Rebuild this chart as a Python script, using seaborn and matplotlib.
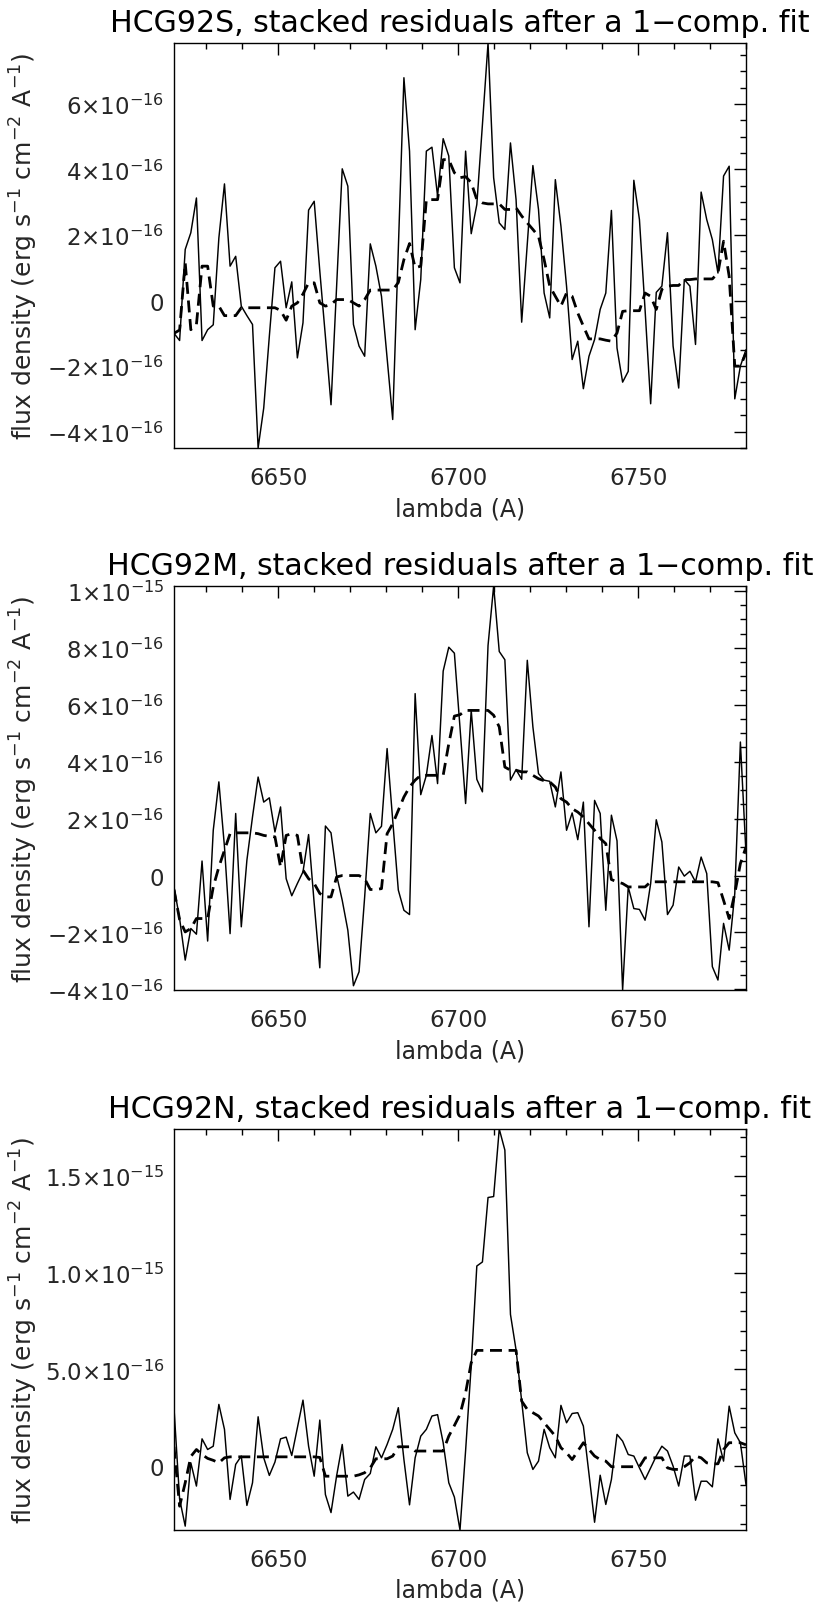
import numpy as np
import pandas as pd
import matplotlib
matplotlib.use("Agg")
import matplotlib.pyplot as plt
import seaborn as sns
from matplotlib.ticker import FixedLocator, MultipleLocator

# ---------------- data (flux in units of 1e-16 erg/s/cm2/A) ----------------
LAM_START = 6621.0
LAM_STEP = 1.5588
N_PIX = 103
SCALE = 1e-16

titles = ["HCG92S, stacked residuals after a 1\u2212comp. fit",
          "HCG92M, stacked residuals after a 1\u2212comp. fit",
          "HCG92N, stacked residuals after a 1\u2212comp. fit"]

s_resid = [-1.0, -1.22, 1.56, 2.07, 3.13, -1.22, -0.89, -0.74, 1.91, 3.56,
           1.05, 1.35, -0.17, -0.46, -0.73, -4.5, -3.28, -1.09, 1.0, 1.2,
           -0.22, 0.57, -1.75, -0.68, 2.76, 3.03, 0.9, -1.1, -3.18, 0.44,
           4.02, 3.49, -0.73, -1.39, -1.70, 1.73, 1.05, 0.13, -1.75, -3.63,
           1.56, 6.8, 4.56, -0.89, 0.64, 4.56, 4.68, 3.19, 4.94, 4.41,
           1.0, 0.54, 4.56, 2.04, 2.93, 5.37, 7.86, 3.75, 2.37, 2.17,
           4.81, 3.08, -0.66, 1.73, 4.12, 2.78, 0.23, -0.53, 3.69, 2.27,
           0.44, -1.8, -1.24, -2.69, -1.70, -1.19, -0.27, 0.23, 2.75, -1.45,
           -2.49, -2.16, 3.67, 2.47, -0.27, -3.15, 0.25, 0.44, 2.07, -1.39,
           -2.67, 0.64, 0.44, -1.34, 3.31, 2.47, 1.86, 0.84, 3.8, 4.1,
           -3.0, -2.0, -1.5]
s_smooth = [-1.0, -0.9, 1.15, -0.89, -0.73, 1.05, 1.05, -0.17, -0.17, -0.46,
            -0.46, -0.46, -0.22, -0.22, -0.22, -0.22, -0.22, -0.22, -0.22, -0.30,
            -0.60, -0.17, -0.07, 0.2, 0.54, 0.54, -0.07, -0.17, -0.12, 0.03,
            0.03, 0.03, -0.07, -0.17, 0.03, 0.32, 0.32, 0.32, 0.32, 0.32,
            0.55, 1.25, 1.74, 1.0, 1.05, 3.08, 3.08, 3.08, 4.3, 4.3,
            3.9, 3.75, 3.78, 3.6, 3.08, 2.98, 2.95, 2.95, 2.95, 2.78,
            2.78, 2.83, 2.58, 2.37, 2.17, 1.96, 1.25, 0.44, 0.13, -0.17,
            0.23, 0.13, -0.38, -0.78, -1.17, -1.17, -1.17, -1.21, -1.24, -0.99,
            -0.33, -0.31, -0.31, -0.31, 0.23, 0.13, -0.27, 0.34, 0.44, 0.46,
            0.46, 0.64, 0.64, 0.66, 0.66, 0.66, 0.66, 0.84, 1.81, 0.74,
            -2.0, -2.0, -1.6]

m_resid = [-0.40, -1.51, -2.97, -1.86, -2.06, 0.51, -2.30, 1.59, 3.29, 1.01,
           -2.04, 2.18, -1.80, 0.54, 2.06, 3.46, 2.58, 2.73, 1.53, 2.41,
           -0.11, -0.71, -0.28, 0.13, 1.44, -0.98, -3.24, 1.74, 1.50, 0.01,
           -0.87, -1.92, -3.87, -3.38, -0.75, 2.18, 1.50, 1.73, 4.46, 1.94,
           -0.51, -1.22, -1.37, 6.39, 2.84, 3.52, 4.92, 3.23, 7.18, 8.02,
           7.81, 5.2, 2.53, 5.80, 3.38, 2.94, 8.08, 10.17, 7.87, 7.58,
           3.35, 3.72, 3.38, 7.56, 5.22, 3.58, 3.35, 3.31, 2.41, 3.64,
           1.59, 2.20, 1.26, 2.58, -1.80, 2.64, 2.18, -1.22, 2.12, 1.22,
           -4.02, -0.40, -1.16, -1.19, -1.57, -0.28, 1.96, 1.18, -1.37, -1.04,
           0.30, -0.02, 0.15, -0.22, 0.65, 0.07, -3.20, -3.67, -1.68, -2.62,
           -0.63, 4.69, 0.77]
m_smooth = [-0.5, -1.55, -1.98, -1.86, -1.51, -1.51, -1.51, -0.40, 0.30, 0.89,
            1.47, 1.50, 1.50, 1.50, 1.50, 1.47, 1.41, 1.38, 1.36, 0.30,
            1.41, 1.47, 1.41, 0.19, -0.11, -0.28, -0.63, -0.75, -0.75, -0.05,
            0.0, 0.0, 0.0, 0.0, -0.11, -0.49, -0.49, -0.46, 1.47, 1.82,
            2.29, 2.76, 3.11, 3.35, 3.52, 3.52, 3.52, 3.52, 3.52, 4.63,
            5.6, 5.65, 5.80, 5.80, 5.80, 5.80, 5.80, 5.63, 5.22, 3.81,
            3.70, 3.70, 3.64, 3.64, 3.52, 3.40, 3.33, 3.29, 3.11, 2.70,
            2.58, 2.35, 2.23, 2.06, 1.82, 1.59, 1.30, 1.12, -0.14, -0.22,
            -0.28, -0.40, -0.40, -0.40, -0.40, -0.22, -0.22, -0.22, -0.22, -0.22,
            -0.22, -0.22, -0.22, -0.22, -0.22, -0.22, -0.22, -0.25, -0.87, -1.51,
            -0.63, 0.42, 1.0]

n_resid = [3.0, -1.7, -3.1, 0.17, -1.03, 1.41, 0.86, 1.03, 3.19, 1.90,
           -1.72, 0.09, 0.52, -2.03, -0.86, 2.55, 0.43, -0.48, 0.21, 1.41,
           1.50, 0.55, 1.98, 3.41, 1.03, -0.52, 2.38, -1.47, -2.4, -0.5,
           1.12, -1.55, -1.34, -1.72, -0.69, -0.38, 1.0, 0.43, 1.12, 1.90,
           3.02, 0.34, -2.0, 0.43, 1.55, 1.90, 2.59, 2.66, 1.21, -0.86,
           -1.6, -3.3, 0.8, 5.2, 10.34, 10.55, 13.88, 13.93, 17.42, 16.33,
           7.84, 6.0, 3.36, 0.69, -0.17, 0.26, 1.90, 0.95, 0.43, 3.14,
           2.24, 2.72, 2.76, 2.07, -0.4, -2.9, -0.47, -1.98, -0.69, 1.64,
           1.29, 0.60, 0.52, -0.09, -0.69, -0.09, 0.52, 1.03, 0.78, 0.0,
           -1.03, 0.52, 0.52, -1.76, -0.78, -0.78, -1.07, 1.41, 0.26, 3.10,
           1.72, 1.21, -0.95]
n_smooth = [1.0, -2.07, -0.86, 0.5, 0.86, 0.6, 0.4, 0.3, 0.17, 0.43,
            0.48, 0.48, 0.48, 0.48, 0.48, 0.48, 0.48, 0.48, 0.48, 0.48,
            0.48, 0.48, 0.48, 0.48, 0.48, 0.48, 0.45, -0.52, -0.52, -0.52,
            -0.52, -0.52, -0.52, -0.45, -0.34, -0.09, 0.38, 0.38, 0.38, 0.52,
            1.0, 1.0, 1.0, 0.78, 0.78, 0.78, 0.78, 0.78, 0.78, 1.55,
            2.1, 2.67, 3.79, 5.34, 5.98, 5.98, 5.98, 5.98, 5.98, 5.98,
            5.98, 5.98, 3.36, 2.93, 2.76, 2.59, 2.24, 1.90, 1.55, 0.95,
            0.69, 0.34, 0.78, 1.21, 0.86, 0.52, 0.34, 0.26, -0.03, -0.03,
            -0.03, -0.03, -0.03, -0.03, 0.43, 0.43, 0.43, 0.43, -0.09, -0.17,
            -0.17, -0.03, 0.17, 0.52, 0.43, 0.17, 0.12, 0.12, 0.86, 1.21,
            1.21, 1.21, 1.1]

# axis ranges (units of 1e-16)
ylims = [(-4.5, 7.86), (-4.02, 10.17), (-3.3, 17.42)]
xlim = (6621.0, 6780.0)
x_major = [6650, 6700, 6750]

y_major = [[-4, -2, 0, 2, 4, 6],
           [-4, -2, 0, 2, 4, 6, 8, 10],
           [0, 5, 10, 15]]
y_labels = [[r"$-4{\times}10^{-16}$", r"$-2{\times}10^{-16}$", "0",
             r"$2{\times}10^{-16}$", r"$4{\times}10^{-16}$", r"$6{\times}10^{-16}$"],
            [r"$-4{\times}10^{-16}$", r"$-2{\times}10^{-16}$", "0",
             r"$2{\times}10^{-16}$", r"$4{\times}10^{-16}$", r"$6{\times}10^{-16}$",
             r"$8{\times}10^{-16}$", r"$1{\times}10^{-15}$"],
            ["0", r"$5.0{\times}10^{-16}$", r"$1.0{\times}10^{-15}$", r"$1.5{\times}10^{-15}$"]]
y_minor_step = [0.5, 0.5, 1.0]

resid = [s_resid, m_resid, n_resid]
smooth = [s_smooth, m_smooth, n_smooth]

# ---------------- plotting ----------------
sns.set_style("white")
plt.rcParams["font.family"] = ["DejaVu Sans"]
plt.rcParams["mathtext.fontset"] = "dejavusans"

W, H = 817, 1606
fig = plt.figure(figsize=(W / 100, H / 100), dpi=100)
fig.patch.set_facecolor("white")

lam = LAM_START + LAM_STEP * np.arange(N_PIX)

# axes boxes in pixels: (left, top, right, bottom)
boxes = [(174, 44, 746, 449), (174, 587, 746, 991), (174, 1130, 746, 1531)]

for k in range(3):
    l, t, r, b = boxes[k]
    ax = fig.add_axes([l / W, 1 - b / H, (r - l) / W, (b - t) / H])
    df = pd.DataFrame({"lam": lam,
                       "resid": np.array(resid[k]) * SCALE,
                       "smooth": np.array(smooth[k]) * SCALE})
    sns.lineplot(data=df, x="lam", y="resid", ax=ax, color="black",
                 linewidth=1.05, estimator=None, sort=False)
    sns.lineplot(data=df, x="lam", y="smooth", ax=ax, color="black",
                 linewidth=2.0, estimator=None, sort=False)
    ax.get_lines()[-1].set_dashes((4.3, 2.4))

    ax.set_xlim(*xlim)
    ax.set_ylim(ylims[k][0] * SCALE, ylims[k][1] * SCALE)
    ax.xaxis.set_major_locator(FixedLocator(x_major))
    ax.xaxis.set_minor_locator(MultipleLocator(10))
    ax.set_xticklabels([str(v) for v in x_major])
    ax.yaxis.set_major_locator(FixedLocator([v * SCALE for v in y_major[k]]))
    ax.yaxis.set_minor_locator(MultipleLocator(y_minor_step[k] * SCALE))
    ax.set_yticklabels(y_labels[k])

    ax.tick_params(which="both", direction="in", top=True, right=True,
                   width=1.0, color="black")
    ax.tick_params(axis="x", labelsize=16.5)
    ax.tick_params(axis="y", labelsize=16.5)
    ax.tick_params(which="major", length=8.6)
    ax.tick_params(which="minor", length=4.3)
    ax.tick_params(axis="x", which="major", pad=13)
    ax.tick_params(axis="y", which="major", pad=7)
    for sp in ax.spines.values():
        sp.set_color("black")
        sp.set_linewidth(1.0)

    ax.set_title(titles[k], fontsize=21.6, pad=8.6, color="black")
    ax.set_xlabel("lambda (A)", fontsize=17, labelpad=5)
    ax.set_ylabel(r"flux density (erg s$^{-1}$ cm$^{-2}$ A$^{-1}$)", fontsize=18)
    ax.yaxis.set_label_coords(-0.235, 0.5)

fig.savefig("out.png", dpi=100, facecolor="white")
